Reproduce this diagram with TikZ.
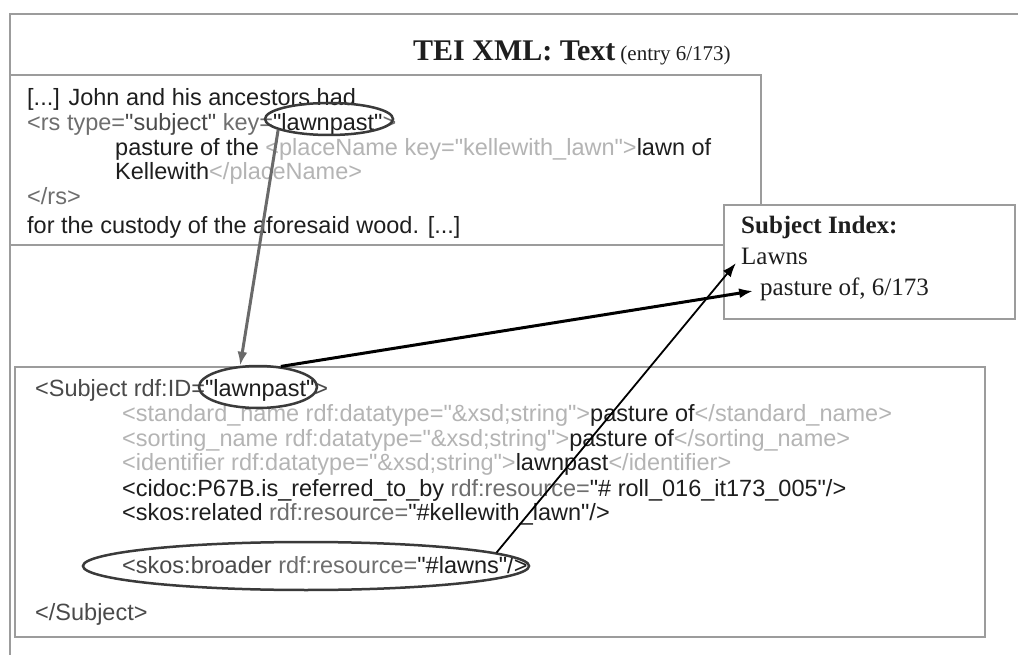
\documentclass[tikz,border=0pt]{standalone}
\usepackage{fontspec}
\setmainfont{Liberation Serif}
\newfontfamily\arialf{Liberation Sans}
\usetikzlibrary{shapes.geometric,arrows.meta}
\definecolor{framegray}{HTML}{9C9C9C}
\definecolor{ringcol}{HTML}{3A3A3A}
\definecolor{dk}{HTML}{1E1E1E}
\definecolor{md}{HTML}{6E6E6E}
\definecolor{sb}{HTML}{4A4A4A}
\definecolor{lg}{HTML}{B4B4B4}
\definecolor{garr}{HTML}{6A6A6A}
\newcommand\cL[1]{\textcolor{lg}{#1}}
\newcommand\cM[1]{\textcolor{md}{#1}}
\newcommand\cD[1]{\textcolor{dk}{#1}}
\newcommand\cS[1]{\textcolor{sb}{#1}}
\begin{document}
\begin{tikzpicture}[x=1pt,y=-1pt,
  frame/.style={draw=framegray, line width=2pt},
  code/.style={anchor=base west, inner sep=0pt, text=dk, font=\arialf\fontsize{23.5}{25}\selectfont},
  idxtext/.style={anchor=base west, inner sep=0pt, text=dk, font=\fontsize{25}{28}\selectfont},
  ring/.style={draw=ringcol, line width=2.5pt, ellipse, inner sep=0pt},
  garrow/.style={draw=garr, line width=3pt, -{Latex[length=14pt,width=10pt]}},
  karrow/.style={draw=black, line width=3pt, -{Latex[length=14pt,width=10pt]}},
  tarrow/.style={draw=black, line width=1.8pt, -{Latex[length=14pt,width=10pt]}}]
\useasboundingbox[fill=white] (0,0) rectangle (1018,655);

% outer frame (left and top only)
\draw[frame] (10,655) -- (10,14) -- (1018,14);

% title
\node[anchor=base west, inner sep=0pt, text=dk] (title) at (413,61)
  {\fontsize{30}{32}\selectfont\bfseries TEI XML: Text\,\mdseries\fontsize{21}{23}\selectfont(entry 6/173)};

% top text box
\draw[frame] (10,75) rectangle (761,245);
\node[code] (t1) at (27,106) {[...] John and his ancestors had};
\node[code] (t2) at (27,131) {\cM{<rs type=}\cS{"subject"} \cM{key=}\cD{"lawnpast"}\cM{>}};
\node[code] (t3) at (115,156) {pasture of the \cL{<placeName key="kellewith\_lawn">}lawn of};
\node[code] (t4) at (115,180) {Kellewith\cL{</placeName>}};
\node[code] (t5) at (27,205) {\cM{</rs>}};
\node[code] (t6) at (27,234) {for the custody of the aforesaid wood. [...]};

% subject index box
\node[frame, fill=white, anchor=north west, minimum width=291pt, minimum height=114pt, inner sep=0pt] (idx) at (723,204) {};
\node[idxtext] (idxh) at (741,234) {\bfseries Subject Index:};
\node[idxtext] (lawns) at (741,265) {Lawns};
\node[idxtext] (pas) at (760,296) {pasture of, 6/173};

% lower RDF box
\draw[frame] (15,367) rectangle (985,637);
\node[code] (r1) at (35,396) {\cS{<Subject rdf:ID=}\cD{"lawnpast"}\cS{>}};
\node[code] (r2) at (122,421) {\cL{<standard\_name rdf:datatype="\&xsd;string">}pasture of\cL{</standard\_name>}};
\node[code] (r3) at (122,446) {\cL{<sorting\_name rdf:datatype="\&xsd;string">}pasture of\cL{</sorting\_name>}};
\node[code] (r4) at (122,470) {\cL{<identifier rdf:datatype="\&xsd;string">}lawnpast\cL{</identifier>}};
\node[code] (r5) at (122,496) {\cD{<cidoc:P67B.is\_referred\_to\_by} \cM{rdf:resource=}\cD{"\# roll\_016\_it173\_005"/>}};
\node[code] (r6) at (122,520) {\cD{<skos:related} \cM{rdf:resource=}\cD{"\#kellewith\_lawn"/>}};
\node[code] (r7) at (122,573) {\cS{<skos:broader} \cM{rdf:resource=}\cD{"\#lawns"/>}};
\node[code] (r8) at (35,620) {\cS{</Subject>}};

% highlight ellipses
\node[ring, minimum width=128pt, minimum height=32pt] (e1) at (329,119) {};
\node[ring, minimum width=118pt, minimum height=42pt] (e2) at (258,387) {};
\node[ring, minimum width=446pt, minimum height=48pt] (e3) at (306,566) {};

% connectors
\draw[garrow] (e1.192) -- (e2.130);
\draw[karrow, shorten >=7pt] (e2.42) -- (pas.west);
\draw[tarrow, shorten >=8pt] (e3.4) -- (lawns.west);
\end{tikzpicture}
\end{document}
